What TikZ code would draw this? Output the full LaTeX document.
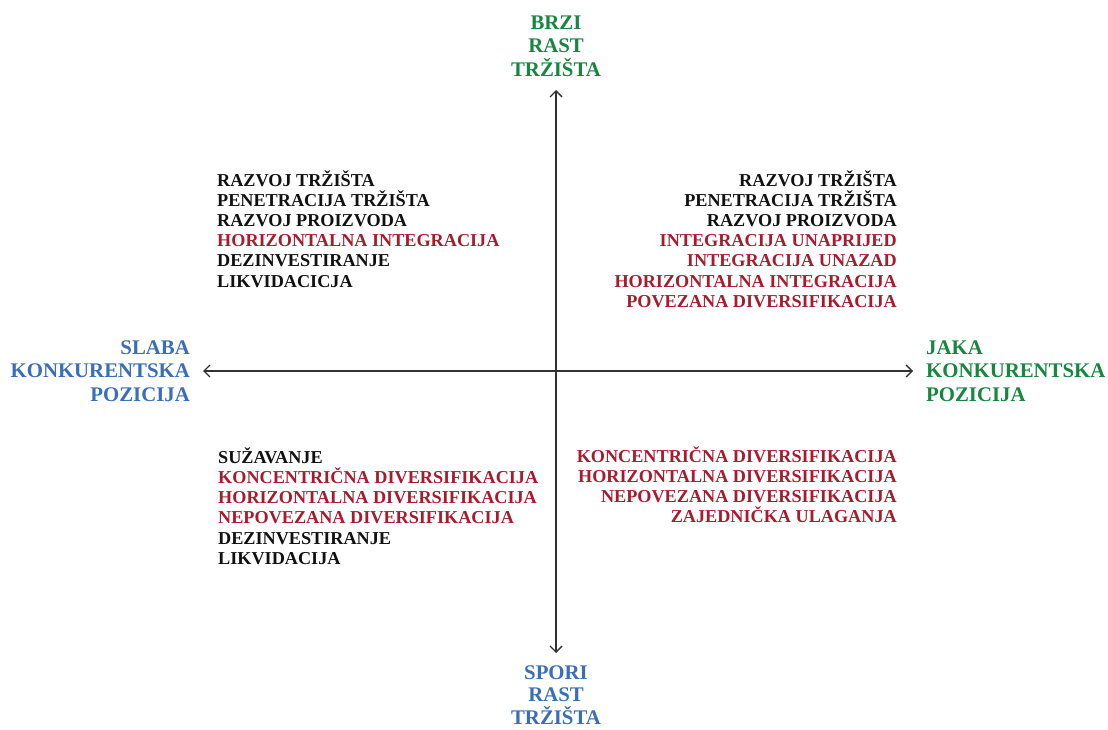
\documentclass[tikz,border=0pt]{standalone}
\usepackage{fontspec}
\setmainfont{Liberation Serif}
\usetikzlibrary{arrows.meta}
\definecolor{axisgreen}{RGB}{24,134,64}
\definecolor{axisblue}{RGB}{58,110,182}
\definecolor{stratred}{RGB}{166,28,46}
\definecolor{stratblack}{RGB}{17,17,17}
\definecolor{axisline}{RGB}{50,50,50}
\newcommand{\rd}[1]{\textcolor{stratred}{#1}}
\newcommand{\firststrut}{\rule{0pt}{17pt}}
\newcommand{\labelstrut}{\rule{0pt}{19pt}}
\begin{document}
\begin{tikzpicture}[x=1pt,y=1pt,
  quad/.style={inner sep=0pt, text=stratblack,
    font=\bfseries\fontsize{18.2}{20.2}\selectfont},
  axislabel/.style={inner sep=0pt,
    font=\bfseries\fontsize{20.8}{23.8}\selectfont},
  axisarrow/.style={draw=axisline, line width=1.4pt,
    {Straight Barb[length=6pt,width=12pt]}-{Straight Barb[length=6pt,width=12pt]}}]
\useasboundingbox (0,0) rectangle (1108,729);

% axis ends
\coordinate (top) at (556,639);
\coordinate (bottom) at (556,76);
\coordinate (left) at (203,358);
\coordinate (right) at (913,358);
\draw[axisarrow] (bottom) -- (top);
\draw[axisarrow] (left) -- (right);

% axis labels
\node[axislabel, text=axisgreen, anchor=north, align=center] (fast) at (556,719)
  {\labelstrut BRZI\\RAST\\TRŽIŠTA};
\node[axislabel, text=axisblue, anchor=north, align=center,
  font=\bfseries\fontsize{20.8}{22.5}\selectfont] (slow) at (556,69)
  {\labelstrut SPORI\\RAST\\TRŽIŠTA};
\node[axislabel, text=axisblue, anchor=north east, align=right] (weak) at (190,394)
  {\labelstrut SLABA\\KONKURENTSKA\\POZICIJA};
\node[axislabel, text=axisgreen, anchor=north west, align=left] (strong) at (926,394)
  {\labelstrut JAKA\\KONKURENTSKA\\POZICIJA};

% quadrant strategies
\node[quad, anchor=north west, align=left] (q2) at (217,560)
  {\firststrut RAZVOJ TRŽIŠTA\\PENETRACIJA TRŽIŠTA\\RAZVOJ PROIZVODA\\
   \rd{HORIZONTALNA INTEGRACIJA}\\DEZINVESTIRANJE\\LIKVIDACICJA};
\node[quad, anchor=north east, align=right] (q1) at (897,560)
  {\firststrut RAZVOJ TRŽIŠTA\\PENETRACIJA TRŽIŠTA\\RAZVOJ PROIZVODA\\
   \rd{INTEGRACIJA UNAPRIJED}\\\rd{INTEGRACIJA UNAZAD}\\
   \rd{HORIZONTALNA INTEGRACIJA}\\\rd{POVEZANA DIVERSIFIKACIJA}};
\node[quad, anchor=north west, align=left] (q3) at (218,283)
  {\firststrut SUŽAVANJE\\\rd{KONCENTRIČNA DIVERSIFIKACIJA}\\
   \rd{HORIZONTALNA DIVERSIFIKACIJA}\\\rd{NEPOVEZANA DIVERSIFIKACIJA}\\
   DEZINVESTIRANJE\\LIKVIDACIJA};
\node[quad, anchor=north east, align=right] (q4) at (897,284)
  {\firststrut \rd{KONCENTRIČNA DIVERSIFIKACIJA}\\
   \rd{HORIZONTALNA DIVERSIFIKACIJA}\\\rd{NEPOVEZANA DIVERSIFIKACIJA}\\
   \rd{ZAJEDNIČKA ULAGANJA}};
\end{tikzpicture}
\end{document}
